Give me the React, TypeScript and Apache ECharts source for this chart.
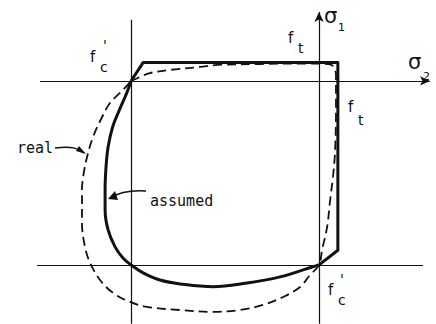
import React, { useEffect, useRef } from "react";
import * as echarts from "echarts";

// Strengths (normalised by f'c)
const fcValue = -1;
const ftValue = 0.1;

// Assumed envelope: straight part (tension cut-offs) and curved compression part
const assumedStraight: number[][] = [
  [-1, 0], [-0.936, ftValue], [ftValue, ftValue], [ftValue, -0.92], [0, -1],
];
const assumedCurve: number[][] = [
  [0, -1], [-0.085, -1.027], [-0.207, -1.065], [-0.383, -1.098], [-0.564, -1.118],
  [-0.739, -1.103], [-0.846, -1.082], [-0.936, -1.043], [-1, -1], [-1.043, -0.962],
  [-1.085, -0.902], [-1.122, -0.81], [-1.138, -0.701], [-1.138, -0.592], [-1.133, -0.467],
  [-1.122, -0.359], [-1.098, -0.25], [-1.062, -0.158], [-1.024, -0.068], [-1, 0],
];
// Real envelope (dashed)
const realCurve: number[][] = [
  [-1, 0], [-0.952, 0.022], [-0.899, 0.043], [-0.793, 0.06], [-0.633, 0.076],
  [-0.543, 0.087], [-0.314, 0.092], [-0.101, 0.095], [0.048, 0.092], [0.074, 0.082],
  [0.09, 0.033], [0.09, -0.158], [0.085, -0.386], [0.074, -0.522], [0.059, -0.647],
  [0.043, -0.793], [0.016, -0.918], [0, -1], [-0.048, -1.054], [-0.101, -1.12],
  [-0.191, -1.174], [-0.298, -1.217], [-0.42, -1.245], [-0.564, -1.255], [-0.739, -1.245],
  [-0.915, -1.228], [-1.005, -1.201], [-1.096, -1.152], [-1.165, -1.082], [-1.218, -0.989],
  [-1.245, -0.902], [-1.261, -0.772], [-1.261, -0.592], [-1.255, -0.522], [-1.234, -0.413],
  [-1.202, -0.304], [-1.154, -0.196], [-1.112, -0.12], [-1.043, -0.049], [-1, 0],
];

// Axis / reference line extents
const sigma2Extent = [-1.484, 0.59];
const sigma1Extent = [-1.32, 0.375];
const fcVerticalExtent = [-1.32, 0.332];
const fcHorizontalExtent = [-1.5, 0.553];

export default function App() {
  const ref = useRef<HTMLDivElement>(null);
  useEffect(() => {
    if (!ref.current) return;
    const chart = echarts.init(ref.current, undefined, { renderer: "svg" });
    const ink = "#111";
    const thin = { color: ink, width: 1.2, type: "solid" as const };
    const mono = "DejaVu Sans Mono";
    const sans = "DejaVu Sans";
    const txt = (text: string, x: number, y: number, size: number, family = sans) => ({
      type: "text",
      x,
      y,
      silent: true,
      style: {
        text,
        fill: ink,
        font: `${size}px "${family}"`,
        textAlign: "left",
        textVerticalAlign: "middle",
      },
    });
    chart.setOption({
      animation: false,
      backgroundColor: "#fff",
      grid: { left: 0, right: 0, top: 0, bottom: 0 },
      xAxis: { type: "value", min: -1.697, max: 0.622, show: false },
      yAxis: { type: "value", min: -1.321, max: 0.44, show: false },
      series: [
        {
          type: "line",
          data: [],
          silent: true,
          markLine: {
            silent: true,
            animation: false,
            symbolSize: [7, 10],
            label: { show: false },
            lineStyle: thin,
            emphasis: { disabled: true },
            data: [
              [
                { coord: [sigma2Extent[0], 0], symbol: "none" },
                { coord: [sigma2Extent[1], 0], symbol: "arrow" },
              ],
              [
                { coord: [0, sigma1Extent[0]], symbol: "none" },
                { coord: [0, sigma1Extent[1]], symbol: "arrow" },
              ],
              [
                { coord: [fcValue, fcVerticalExtent[0]], symbol: "none" },
                { coord: [fcValue, fcVerticalExtent[1]], symbol: "none" },
              ],
              [
                { coord: [fcHorizontalExtent[0], fcValue], symbol: "none" },
                { coord: [fcHorizontalExtent[1], fcValue], symbol: "none" },
              ],
            ],
          },
        },
        {
          name: "real",
          type: "line",
          data: realCurve,
          smooth: 0.35,
          symbol: "none",
          silent: true,
          lineStyle: { color: ink, width: 1.8, type: [9, 5] },
        },
        {
          name: "assumed",
          type: "line",
          data: assumedStraight,
          symbol: "none",
          silent: true,
          lineStyle: { color: ink, width: 3, join: "round" },
        },
        {
          name: "assumed curve",
          type: "line",
          data: assumedCurve,
          smooth: 0.4,
          symbol: "none",
          silent: true,
          lineStyle: { color: ink, width: 3 },
        },
      ],
      graphic: [
        // top-left f'c
        txt("f", 90, 57, 15),
        txt("c", 100, 67, 14),
        txt("'", 103, 45, 14),
        // top f_t
        txt("f", 288, 37.5, 15),
        txt("t", 298, 48, 14),
        // right f_t
        txt("f", 348, 106.5, 15),
        txt("t", 358, 120, 14),
        // bottom f'c
        txt("f", 328, 289.5, 15),
        txt("c", 338, 300, 14),
        txt("'", 340, 279, 14),
        // sigma labels
        txt("σ", 324, 16, 21),
        txt("1", 338, 27, 11),
        txt("σ", 408, 62, 21),
        txt("2", 423, 76, 11),
        // notes
        txt("real", 17, 148, 15, mono),
        txt("assumed", 150, 201, 15, mono),
        {
          type: "bezierCurve",
          silent: true,
          shape: { x1: 55, y1: 148, x2: 84, y2: 153, cpx1: 72, cpy1: 146, cpx2: 78, cpy2: 148 },
          style: { stroke: ink, lineWidth: 1.5, fill: null },
        },
        {
          type: "polygon",
          silent: true,
          shape: { points: [[86, 154], [76, 151], [79, 146]] },
          style: { fill: ink },
        },
        {
          type: "bezierCurve",
          silent: true,
          shape: { x1: 146, y1: 191, x2: 110, y2: 198, cpx1: 130, cpy1: 190, cpx2: 118, cpy2: 193 },
          style: { stroke: ink, lineWidth: 1.5, fill: null },
        },
        {
          type: "polygon",
          silent: true,
          shape: { points: [[108, 199], [115, 191], [118, 200]] },
          style: { fill: ink },
        },
      ],
    });
    return () => chart.dispose();
  }, []);
  return (
    <div
      ref={ref}
      style={{ position: "absolute", left: 0, top: 0, width: 436, height: 324, background: "#fff" }}
    />
  );
}
